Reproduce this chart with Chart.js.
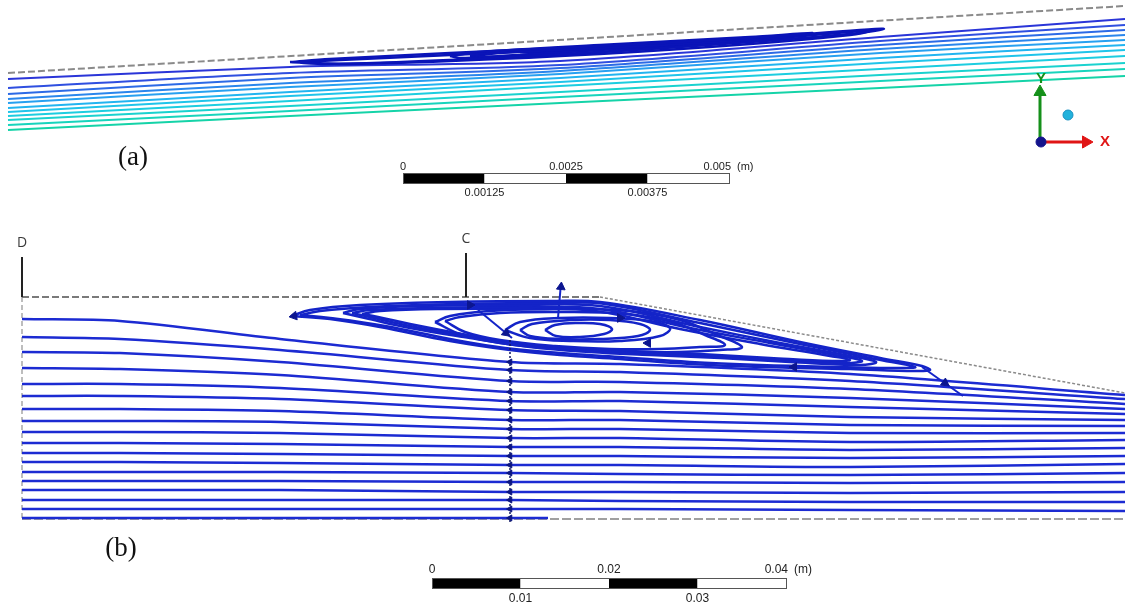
<!DOCTYPE html>
<html>
<head>
<meta charset="utf-8">
<script src="https://cdn.jsdelivr.net/npm/chart.js@4.4.0/dist/chart.umd.min.js"></script>
<style>
  html, body { margin: 0; padding: 0; background: #fff; }
  #wrap { width: 1125px; height: 609px; }
</style>
</head>
<body>
<div id="wrap"><canvas id="flow" width="1125" height="609"></canvas></div>
<script>
// all coordinates are in units (x right, y down)

// ---- panel (a) ----
const wallA = [[8, 73], [1125, 6]];
const streamAX = [8, 290, 560, 880, 1125];
const streamAY = [
  [79, 67, 61, 37, 19],
  [88, 73, 65, 41, 25],
  [94, 78, 68, 45, 30],
  [99, 83, 71, 49, 35],
  [103, 87, 74, 53, 40],
  [108, 92, 78, 58, 45],
  [112, 96, 82, 63, 50],
  [116, 101, 86, 69, 56],
  [120, 106, 92, 75, 63],
  [125, 111, 97, 81, 69],
  [130, 116, 103, 88, 76]
];
const streamAColors = ['#2a35d8', '#2f4fe0', '#2c6ae6', '#2a86ec', '#27a0f0', '#22b4f0',
                       '#1fc4ea', '#1ccde0', '#1ad2cf', '#18d4bc', '#15d3a8'];
const vortexA = [
  [[290,62],[330,59],[450,53],[600,46],[750,38],[860,30],[884,29],[860,33],[750,42],[600,52],[450,60],[330,64],[290,62]],
  [[300,62],[340,60],[450,55],[600,48],[750,40],[850,32],[870,31],[850,35],[750,44],[600,54],[450,61],[340,64],[300,62]],
  [[450,56],[480,52],[600,45],[750,37],[812,33],[790,36],[700,44],[600,50],[500,56],[460,58],[450,56]],
  [[470,56],[500,53],[600,47],[720,40],[800,35],[780,38],[700,45],[600,52],[500,57],[470,56]],
  [[520,52],[600,47],[700,41],[780,36],[760,39],[680,45],[600,49],[540,53],[520,52]],
  [[560,50],[650,45],[740,40],[700,43],[620,47],[560,50]]
];

// ---- panel (b) ----
const wallBTop = [[22, 297], [600, 297]];
const wallBSlope = [[600, 297], [1125, 393]];
const wallBLeft = [[22, 297], [22, 519]];
const wallBBottom = [[22, 519], [1125, 519]];
const streamBX = [22, 120, 280, 510, 620, 850, 1125];
const streamBY = [
  [319, 321, 339, 362, 364, 374, 395],
  [337, 339, 350, 370, 372, 381, 399],
  [352, 353, 362, 381, 382, 389, 404],
  [368, 369, 375, 392, 392, 398, 409],
  [384, 384, 388, 401, 401, 407, 414],
  [396, 396, 399, 410, 411, 417, 420],
  [409, 409, 411, 420, 420, 425, 426],
  [421, 421, 422, 429, 429, 433, 433],
  [432, 432, 433, 438, 438, 442, 440],
  [443, 443, 444, 447, 447, 450, 448],
  [453, 453, 454, 456, 456, 458, 456],
  [462, 462, 463, 465, 465, 467, 464],
  [472, 472, 472, 473, 474, 475, 473],
  [481, 481, 481, 482, 482, 483, 482],
  [490, 490, 490, 492, 492, 493, 492],
  [500, 500, 500, 500, 501, 502, 502],
  [509, 509, 509, 509, 509, 510, 511]
];
const streamBFloor = [[22, 518], [548, 518]];
const vortexB = [
  [[292,316],[310,310],[360,305],[450,302],[550,301],[600,302],[700,320],[800,342],[880,358],[922,366],[930,370],[915,371],[850,369],[760,367],[690,364],[620,359],[560,355],[510,350],[450,341],[380,327],[330,319],[292,316]],
  [[300,315],[320,311],[370,307],[460,304],[560,303],[605,304],[700,323],[800,344],[875,359],[915,367],[900,368],[840,367],[760,365],[690,362],[620,357],[560,353],[505,348],[450,339],[385,326],[330,318],[300,315]],
  [[343,313],[360,309],[420,306],[520,305],[600,306],[700,327],[780,343],[850,356],[876,362],[860,365],[790,362],[720,358],[650,355],[590,352],[530,347],[470,338],[410,328],[365,318],[343,313]],
  [[352,313],[370,310],[430,308],[520,307],[600,309],[690,328],[770,343],[840,356],[862,361],[845,363],[780,360],[710,356],[640,353],[580,350],[520,345],[465,336],[410,326],[370,317],[352,313]],
  [[362,314],[380,311],[440,309],[520,309],[595,311],[680,329],[760,344],[830,356],[850,360],[832,361],[770,358],[700,354],[630,351],[570,348],[515,343],[462,334],[410,324],[378,317],[362,314]],
  [[435,322],[450,316],[490,311],[560,309],[630,311],[680,320],[715,334],[742,347],[720,350],[680,352],[620,352],[560,349],[500,343],[460,334],[435,322]],
  [[445,321],[460,317],[500,313],[560,312],[625,314],[672,322],[705,335],[725,345],[700,347],[660,349],[610,349],[555,346],[500,340],[465,332],[445,321]],
  [[505,330],[520,322],[560,318],[610,318],[650,321],[670,328],[660,336],[620,341],[570,341],[530,338],[505,330]],
  [[520,330],[532,324],[570,320],[610,320],[640,324],[650,330],[638,336],[600,339],[560,339],[530,336],[520,330]],
  [[545,330],[555,325],[578,323],[600,324],[612,329],[604,334],[580,337],[556,336],[545,330]]
];
const arrowLinesB = [
  [[558, 318], [561, 283]],
  [[478, 310], [512, 338]],
  [[922, 367], [963, 396]]
];
// arrowhead markers: x, y, rotation (deg)
const arrowHeadsB = [
  [561, 287, 5], [506, 333, 130], [945, 383, 125], [294, 316, -100],
  [794, 367, -90], [648, 343, -90], [470, 305, 90], [620, 318, 90]
];
const sectionMarks = [['D', 22, 257], ['C', 466, 253]];

// ---- overlays: axis triad and scale bars ----
const scaleALabels = ['0', '0.00125', '0.0025', '0.00375', '0.005'];
const scaleBLabels = ['0', '0.01', '0.02', '0.03', '0.04'];

const pts = arr => arr.map(p => ({ x: p[0], y: p[1] }));
const line = (data, color, width, extra) => Object.assign({
  data: pts(data), showLine: true, borderColor: color, backgroundColor: color,
  borderWidth: width, pointRadius: 0, tension: 0, fill: false
}, extra || {});

const datasets = [];

// panel (a)
datasets.push(line(wallA, '#8a8a8a', 2, { borderDash: [7, 3], order: 5 }));
streamAY.forEach((ys, i) => {
  datasets.push(line(streamAX.map((x, j) => [x, ys[j]]), streamAColors[i], 2, { tension: 0.3, order: 3 }));
});
vortexA.forEach(loop => datasets.push(line(loop, '#0a14b8', 2.5, { tension: 0.35, order: 2 })));

// triad
datasets.push(line([[1040, 140], [1040, 92]], '#15901a', 3, { order: 1 }));
datasets.push(line([[1040, 142], [1084, 142]], '#e01515', 3, { order: 1 }));
datasets.push({ data: pts([[1040, 92]]), showLine: false, pointStyle: 'triangle', pointRadius: 7,
  pointRotation: 0, backgroundColor: '#15901a', borderColor: '#15901a', order: 1 });
datasets.push({ data: pts([[1086, 142]]), showLine: false, pointStyle: 'triangle', pointRadius: 7,
  pointRotation: 90, backgroundColor: '#e01515', borderColor: '#e01515', order: 1 });
datasets.push({ data: pts([[1041, 142]]), showLine: false, pointRadius: 5,
  backgroundColor: '#14148c', borderColor: '#14148c', order: 0 });
datasets.push({ data: pts([[1068, 115]]), showLine: false, pointRadius: 5,
  backgroundColor: '#22b2dc', borderColor: '#1a90c0', order: 0 });

// panel (b)
datasets.push(line(wallBTop, '#7a7a7a', 2, { borderDash: [7, 3], order: 5 }));
datasets.push(line(wallBSlope, '#8a8a8a', 1.5, { borderDash: [3, 2], order: 5 }));
datasets.push(line(wallBLeft, '#a8a8a8', 1.5, { borderDash: [5, 3], order: 5 }));
datasets.push(line(wallBBottom, '#a0a0a0', 2, { borderDash: [9, 3], order: 5 }));
sectionMarks.forEach(m => datasets.push(line([[m[1], m[2]], [m[1], 297]], '#222', 2, { order: 4 })));
streamBY.forEach(ys => {
  datasets.push(line(streamBX.map((x, j) => [x, ys[j]]), '#1c2bd2', 2.5, { tension: 0.3, order: 3 }));
});
datasets.push(line(streamBFloor, '#1c2bd2', 2.5, { order: 3 }));
vortexB.forEach(loop => datasets.push(line(loop, '#1424c8', 2.5, { tension: 0.4, order: 2 })));
arrowLinesB.forEach(a => datasets.push(line(a, '#1424c8', 2, { order: 2 })));
datasets.push(line([[510, 340], [510, 522]], '#101860', 1.5, { borderDash: [2, 2], order: 1 }));
datasets.push({
  data: streamBY.map(ys => ({ x: streamBX[3], y: ys[3] })).concat([{ x: 510, y: 518 }]),
  showLine: false, pointStyle: 'triangle', pointRadius: 3.5, pointRotation: -90,
  backgroundColor: '#0c1680', borderColor: '#0c1680', order: 0
});
datasets.push({
  data: arrowHeadsB.map(a => ({ x: a[0], y: a[1] })), showLine: false, pointStyle: 'triangle',
  pointRadius: 5, pointRotation: arrowHeadsB.map(a => a[2]),
  backgroundColor: '#0c1690', borderColor: '#0c1690', order: 0
});

function drawScaleBar(ctx, x, y, labels, x0, x1, yTop, yBot, font, yAbove, yBelow) {
  const X0 = x.getPixelForValue(x0), X1 = x.getPixelForValue(x1);
  const T = y.getPixelForValue(yTop), B = y.getPixelForValue(yBot);
  const w = (X1 - X0) / 4;
  for (let i = 0; i < 4; i++) {
    ctx.fillStyle = i % 2 === 0 ? '#000' : '#fff';
    ctx.fillRect(X0 + i * w, T, w, B - T);
  }
  ctx.strokeStyle = '#555';
  ctx.lineWidth = 1;
  ctx.strokeRect(X0 + 0.5, T + 0.5, X1 - X0, B - T);
  ctx.fillStyle = '#222';
  ctx.font = font;
  ctx.textBaseline = 'middle';
  labels.forEach((lab, i) => {
    const cx = X0 + i * w;
    if (i === 4) { ctx.textAlign = 'right'; ctx.fillText(lab, cx + 2, y.getPixelForValue(yAbove)); }
    else { ctx.textAlign = 'center'; ctx.fillText(lab, cx, y.getPixelForValue(i % 2 === 0 ? yAbove : yBelow)); }
  });
  ctx.textAlign = 'left';
  ctx.fillText('(m)', X1 + 8, y.getPixelForValue(yAbove));
}

const overlay = {
  id: 'overlay',
  afterDatasetsDraw(chart) {
    const { ctx, scales: { x, y } } = chart;
    ctx.save();
    drawScaleBar(ctx, x, y, scaleALabels, 403, 729, 173, 183, '11px "Liberation Sans", Arial', 167, 193);
    drawScaleBar(ctx, x, y, scaleBLabels, 432, 786, 578, 588, '12px "Liberation Sans", Arial', 570, 599);

    ctx.textAlign = 'center';
    ctx.textBaseline = 'middle';
    ctx.font = '27px "Liberation Serif", "Times New Roman", serif';
    ctx.fillStyle = '#111';
    ctx.fillText('(a)', x.getPixelForValue(133), y.getPixelForValue(158));
    ctx.fillText('(b)', x.getPixelForValue(121), y.getPixelForValue(549));

    ctx.font = '14px "Open Sans", "DejaVu Sans", sans-serif';
    ctx.fillStyle = '#3a3a3a';
    sectionMarks.forEach(m => ctx.fillText(m[0], x.getPixelForValue(m[1]), y.getPixelForValue(m[2] - 14)));

    ctx.font = 'bold 15px "Liberation Sans", Arial';
    ctx.fillStyle = '#15901a';
    ctx.fillText('Y', x.getPixelForValue(1041), y.getPixelForValue(79));
    ctx.fillStyle = '#e01515';
    ctx.fillText('X', x.getPixelForValue(1105), y.getPixelForValue(142));
    ctx.restore();
  }
};

new Chart(document.getElementById('flow'), {
  type: 'scatter',
  data: { datasets },
  options: {
    responsive: false,
    animation: false,
    devicePixelRatio: 1,
    layout: { padding: 0, autoPadding: false },
    scales: {
      x: { type: 'linear', min: 0, max: 1125, display: false },
      y: { type: 'linear', min: 0, max: 609, reverse: true, display: false }
    },
    plugins: { legend: { display: false }, tooltip: { enabled: false } },
    elements: { line: { capBezierPoints: false } }
  },
  plugins: [overlay]
});
</script>
</body>
</html>
